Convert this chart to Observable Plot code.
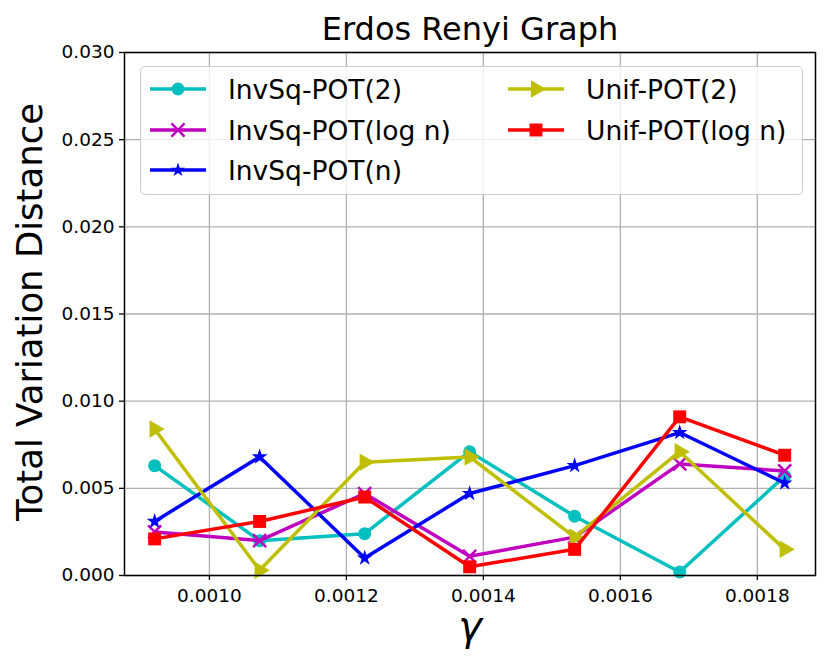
<!DOCTYPE html>
<html><head><meta charset="utf-8">
<script src="https://cdn.jsdelivr.net/npm/d3@7"></script>
<script src="https://cdn.jsdelivr.net/npm/@observablehq/plot@0.6"></script>
<style>
body{margin:0;background:#fff;}
#wrap{position:relative;width:830px;height:665px;font-family:"DejaVu Sans",sans-serif;}
#legend{position:absolute;left:140px;top:66px;width:663px;height:129px;background:rgba(255,255,255,0.8);border:1.5px solid #cccccc;border-radius:5px;box-sizing:border-box;}
.item{position:absolute;display:flex;align-items:center;font-size:26.5px;color:#000;white-space:nowrap;height:30px;}
.item svg{margin-right:21px;}
</style></head><body><div id="wrap"></div>
<script>
const gamma = [0.00092, 0.0010733, 0.0012267, 0.00138, 0.0015333, 0.0016867, 0.00184];
const seriesNames = ["InvSq-POT(2)", "InvSq-POT(log n)", "InvSq-POT(n)", "Unif-POT(2)", "Unif-POT(log n)"];
const invSq2   = [0.0063, 0.0020, 0.0024, 0.0071, 0.0034, 0.0002, 0.0057];
const invSqLog = [0.0025, 0.0020, 0.0047, 0.0011, 0.0022, 0.0064, 0.0060];
const invSqN   = [0.0031, 0.0068, 0.0010, 0.0047, 0.0063, 0.0082, 0.0053];
const unif2    = [0.0084, 0.0003, 0.0065, 0.0068, 0.0022, 0.0071, 0.0015];
const unifLog  = [0.0021, 0.0031, 0.0045, 0.0005, 0.0015, 0.0091, 0.0069];
const xTicks = [0.0010, 0.0012, 0.0014, 0.0016, 0.0018];
const yTicks = [0.000, 0.005, 0.010, 0.015, 0.020, 0.025, 0.030];
const titleText = "Erdos Renyi Graph";
const yLabel = "Total Variation Distance";
const xLabel = "γ";

const colors = ["#00bfbf", "#bf00bf", "#0000ff", "#bfbf00", "#ff0000"];
const symbols = ["circle", "times", "star", "triangle", "square"];
const rotations = [0, 0, 0, 90, 0];
const radii = [6.5, 6, 5, 6.5, 7.3];
const legendRadii = [6.5, 6, 4.5, 6.5, 7.3];
const allValues = [invSq2, invSqLog, invSqN, unif2, unifLog];

const seriesMarks = [];
allValues.forEach((vals, s) => {
  const data = gamma.map((g, i) => ({x: g, y: vals[i]}));
  seriesMarks.push(Plot.line(data, {x: "x", y: "y", stroke: colors[s], strokeWidth: 3.5}));
  const isStroke = symbols[s] === "times";
  seriesMarks.push(Plot.dot(data, {
    x: "x", y: "y", symbol: symbols[s], r: radii[s], rotate: rotations[s],
    fill: isStroke ? "none" : colors[s],
    stroke: isStroke ? colors[s] : "none",
    strokeWidth: isStroke ? 2.5 : 0
  }));
});

const chart = Plot.plot({
  width: 830, height: 665,
  marginLeft: 124, marginRight: 15, marginTop: 52, marginBottom: 90,
  style: {fontFamily: "DejaVu Sans", fontSize: "18.5px", color: "black", background: "white"},
  x: {domain: [0.000876, 0.001885], label: null},
  y: {domain: [0, 0.030], label: null},
  marks: [
    Plot.gridX(xTicks, {stroke: "#b0b0b0", strokeOpacity: 1, strokeWidth: 1.3}),
    Plot.gridY(yTicks, {stroke: "#b0b0b0", strokeOpacity: 1, strokeWidth: 1.3}),
    Plot.axisX(xTicks, {tickSize: 5, tickPadding: 8, tickFormat: d3.format(".4f"), label: null, stroke: "black", strokeWidth: 1.3, fontSize: 18.5}),
    Plot.axisY(yTicks, {tickSize: 5, tickPadding: 5, tickFormat: d3.format(".3f"), label: null, stroke: "black", strokeWidth: 1.3, fontSize: 18.5}),
    ...seriesMarks,
    Plot.frame({stroke: "black", strokeWidth: 1.5}),
    Plot.text([titleText], {text: d => d, frameAnchor: "top", lineAnchor: "middle", dy: -23, fontSize: 32}),
    Plot.text([yLabel], {text: d => d, frameAnchor: "left", textAnchor: "middle", lineAnchor: "middle", rotate: -90, dx: -94, dy: -2, fontSize: 35.5}),
    Plot.text([xLabel], {text: d => d, frameAnchor: "bottom", lineAnchor: "middle", dy: 52, fontSize: 40, fontStyle: "italic"})
  ]
});

const wrap = document.getElementById("wrap");
wrap.appendChild(chart);

// legend overlay
const legend = document.createElement("div");
legend.id = "legend";
wrap.appendChild(legend);
const legendPos = [[8, 7], [8, 48], [8, 88], [366, 7], [366, 48]];
seriesNames.forEach((name, s) => {
  const item = document.createElement("div");
  item.className = "item";
  item.style.left = legendPos[s][0] + "px";
  item.style.top = legendPos[s][1] + "px";
  const svg = d3.create("svg").attr("width", 58).attr("height", 30);
  svg.append("line").attr("x1", 1).attr("x2", 57).attr("y1", 15).attr("y2", 15)
    .attr("stroke", colors[s]).attr("stroke-width", 3.5);
  const symMap = {circle: d3.symbolCircle, times: d3.symbolTimes, star: d3.symbolStar, triangle: d3.symbolTriangle, square: d3.symbolSquare};
  const path = d3.symbol(symMap[symbols[s]], Math.PI * legendRadii[s] * legendRadii[s])();
  const isStroke = symbols[s] === "times";
  svg.append("path").attr("d", path)
    .attr("transform", `translate(29,15) rotate(${rotations[s]})`)
    .attr("fill", isStroke ? "none" : colors[s])
    .attr("stroke", isStroke ? colors[s] : "none")
    .attr("stroke-width", isStroke ? 2.5 : 0);
  item.appendChild(svg.node());
  const span = document.createElement("span");
  span.textContent = name;
  item.appendChild(span);
  legend.appendChild(item);
});
</script></body></html>
